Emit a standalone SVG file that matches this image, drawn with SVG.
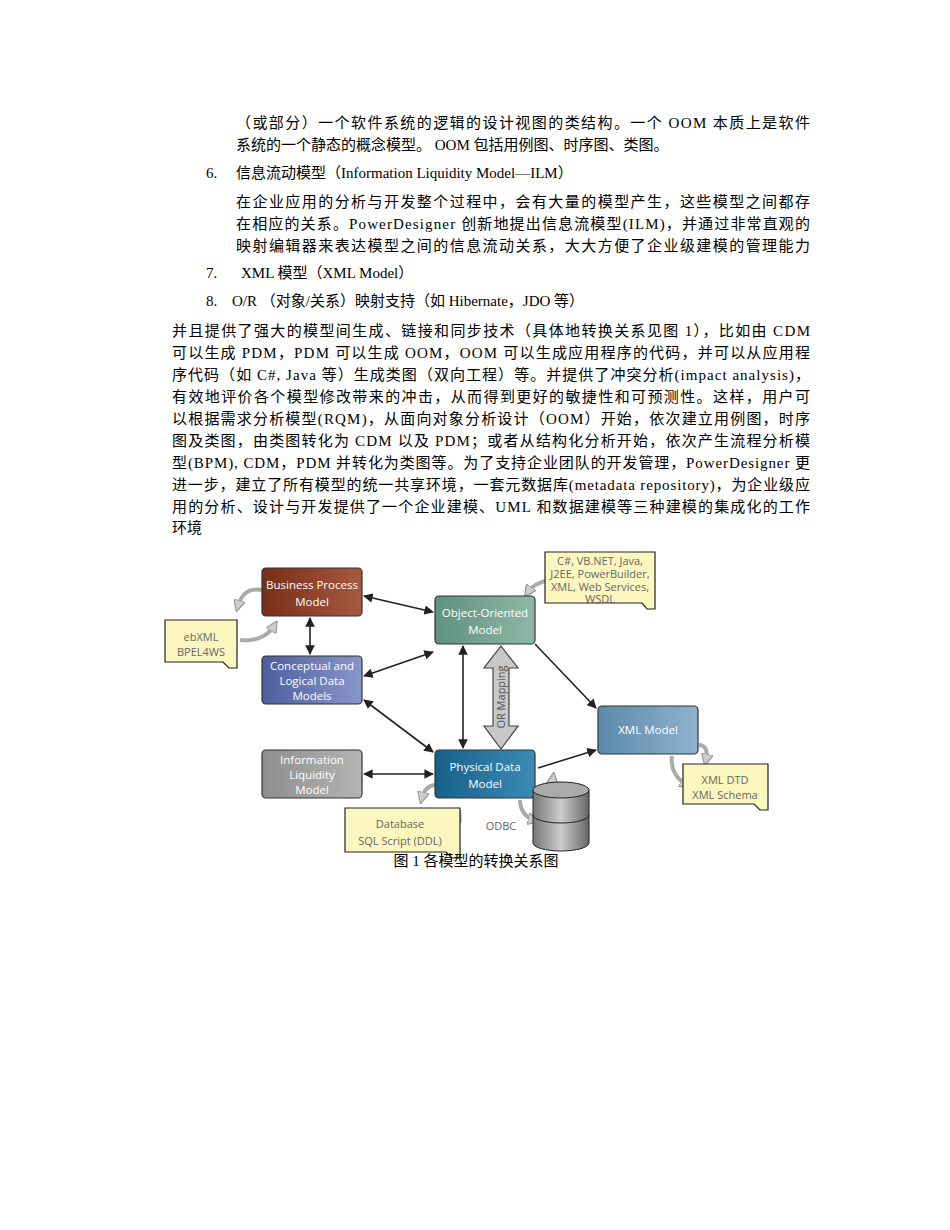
<svg xmlns="http://www.w3.org/2000/svg" width="950" height="1230" viewBox="0 0 950 1230">
<style>
.t{font-family:"Liberation Serif","Noto Sans CJK SC",serif;font-size:15px;fill:#000}
.bt{font-family:"Open Sans","Liberation Sans",sans-serif;font-size:11.5px;fill:#fff;text-anchor:middle}
.nt{font-family:"Open Sans","Liberation Sans",sans-serif;font-size:11px;fill:#666;text-anchor:middle}
.box{stroke:#333;stroke-width:1.2}
.note{fill:#fcf7bf;stroke:#222;stroke-width:1.2}
.c{stroke:#222;stroke-width:1.6;fill:none;marker-start:url(#ah);marker-end:url(#ah)}
.c1{stroke:#222;stroke-width:1.6;fill:none;marker-end:url(#ah)}
.g{stroke:#aaa;stroke-width:4;fill:none;marker-end:url(#gh)}
</style>
<defs>
<marker id="ah" viewBox="0 0 10 10" refX="9" refY="5" markerWidth="6" markerHeight="6" orient="auto-start-reverse"><path d="M0,0L10,5L0,10z" fill="#222"/></marker>
<marker id="gh" viewBox="0 0 10 10" refX="5" refY="5" markerWidth="3" markerHeight="3" orient="auto"><path d="M0,0L10,5L0,10z" fill="#ccc" stroke="#999"/></marker>
<linearGradient id="gb" x1="0" x2="1"><stop offset="0" stop-color="#7a2e16"/><stop offset="1" stop-color="#a45a40"/></linearGradient>
<linearGradient id="gc" x1="0" x2="1"><stop offset="0" stop-color="#4d5ea0"/><stop offset="1" stop-color="#8a96c8"/></linearGradient>
<linearGradient id="gi" x1="0" x2="1"><stop offset="0" stop-color="#8e8e8e"/><stop offset="1" stop-color="#b4b4b4"/></linearGradient>
<linearGradient id="go" x1="0" x2="1"><stop offset="0" stop-color="#5f9080"/><stop offset="1" stop-color="#8fb8a8"/></linearGradient>
<linearGradient id="gp" x1="0" x2="1"><stop offset="0" stop-color="#16608a"/><stop offset="1" stop-color="#3d8bb5"/></linearGradient>
<linearGradient id="gx" x1="0" x2="1"><stop offset="0" stop-color="#5b8aaa"/><stop offset="1" stop-color="#8fb2cc"/></linearGradient>
<linearGradient id="gd" x1="0" x2="1"><stop offset="0" stop-color="#777"/><stop offset="0.5" stop-color="#ccc"/><stop offset="1" stop-color="#666"/></linearGradient>
</defs>
<rect width="950" height="1230" fill="#fff"/>
<g id="text">
<text class="t" x="236" y="128" textLength="574">（或部分）一个软件系统的逻辑的设计视图的类结构。一个  OOM  本质上是软件</text>
<text class="t" x="236" y="150">系统的一个静态的概念模型。 OOM 包括用例图、时序图、类图。</text>
<text class="t" x="206" y="178">6.</text>
<text class="t" x="236" y="178">信息流动模型（Information Liquidity Model—ILM）</text>
<text class="t" x="236" y="207" textLength="574">在企业应用的分析与开发整个过程中，会有大量的模型产生，这些模型之间都存</text>
<text class="t" x="236" y="229" textLength="574">在相应的关系。PowerDesigner 创新地提出信息流模型(ILM)，并通过非常直观的</text>
<text class="t" x="236" y="251" textLength="574">映射编辑器来表达模型之间的信息流动关系，大大方便了企业级建模的管理能力</text>
<text class="t" x="206" y="278">7.</text>
<text class="t" x="241" y="278">XML  模型（XML Model）</text>
<text class="t" x="206" y="306">8.</text>
<text class="t" x="232" y="306">O/R  （对象/关系）映射支持（如 Hibernate，JDO 等）</text>
<text class="t" x="172" y="336" textLength="638">并且提供了强大的模型间生成、链接和同步技术（具体地转换关系见图 1），比如由 CDM</text>
<text class="t" x="172" y="358" textLength="638">可以生成 PDM，PDM 可以生成 OOM，OOM 可以生成应用程序的代码，并可以从应用程</text>
<text class="t" x="172" y="380" textLength="638">序代码（如 C#, Java 等）生成类图（双向工程）等。并提供了冲突分析(impact analysis)，</text>
<text class="t" x="172" y="402" textLength="638">有效地评价各个模型修改带来的冲击，从而得到更好的敏捷性和可预测性。这样，用户可</text>
<text class="t" x="172" y="424" textLength="638">以根据需求分析模型(RQM)，从面向对象分析设计（OOM）开始，依次建立用例图，时序</text>
<text class="t" x="172" y="446" textLength="638">图及类图，由类图转化为 CDM 以及 PDM；或者从结构化分析开始，依次产生流程分析模</text>
<text class="t" x="172" y="468" textLength="638">型(BPM), CDM，PDM 并转化为类图等。为了支持企业团队的开发管理，PowerDesigner 更</text>
<text class="t" x="172" y="490" textLength="638">进一步，建立了所有模型的统一共享环境，一套元数据库(metadata repository)，为企业级应</text>
<text class="t" x="172" y="512" textLength="638">用的分析、设计与开发提供了一个企业建模、UML 和数据建模等三种建模的集成化的工作</text>
<text class="t" x="172" y="533">环境</text>
</g>
<g id="connectors">
<line class="c" x1="364" y1="596" x2="433" y2="612"/>
<line class="c" x1="310" y1="618" x2="310" y2="654"/>
<line class="c" x1="364" y1="676" x2="433" y2="652"/>
<line class="c" x1="364" y1="700" x2="433" y2="752"/>
<line class="c" x1="463" y1="646" x2="463" y2="748"/>
<line class="c1" x1="535" y1="644" x2="596" y2="708"/>
<line class="c1" x1="538" y1="768" x2="596" y2="750"/>
<line class="c" x1="364" y1="774" x2="433" y2="774"/>
<path d="M501,646L518,668H509V726H518L501,749L484,726H493V668H484Z" fill="#c8c8c8" stroke="#444" stroke-width="1.2"/>
<text x="0" y="0" transform="translate(505,697) rotate(-90)" font-family="Open Sans,Liberation Sans,sans-serif" font-size="11" fill="#555" text-anchor="middle">OR Mapping</text>
<path class="g" d="M262,590C250,588 242,592 238,606"/>
<path class="g" d="M240,640C255,642 268,636 274,626"/>
<path class="g" d="M548,598C560,596 565,590 568,584"/>
<path class="g" d="M548,580C540,582 532,586 528,592"/>
<path class="g" d="M699,745C706,745 708,752 706,760"/>
<path class="g" d="M672,756C670,770 678,780 686,784"/>
<path class="g" d="M436,785C428,785 424,790 422,798"/>
<path class="g" d="M438,832C448,830 455,822 458,815"/>
<path class="g" d="M520,800C520,810 526,818 534,820"/>
<path class="g" d="M537,795C547,795 552,786 553,778"/>
</g>
<g id="bpm"><rect class="box" x="262" y="568" width="100" height="48" rx="4" fill="url(#gb)"/><text class="bt" x="312" y="589">Business Process</text><text class="bt" x="312" y="606">Model</text></g>
<g id="cldm"><rect class="box" x="262" y="656" width="100" height="48" rx="4" fill="url(#gc)"/><text class="bt" x="312" y="670">Conceptual and</text><text class="bt" x="312" y="685">Logical Data</text><text class="bt" x="312" y="700">Models</text></g>
<g id="ilm"><rect class="box" x="262" y="750" width="100" height="48" rx="4" fill="url(#gi)"/><text class="bt" x="312" y="764">Information</text><text class="bt" x="312" y="779">Liquidity</text><text class="bt" x="312" y="794">Model</text></g>
<g id="oom"><rect class="box" x="435" y="596" width="100" height="48" rx="4" fill="url(#go)"/><text class="bt" x="485" y="617">Object-Oriented</text><text class="bt" x="485" y="634">Model</text></g>
<g id="pdm"><rect class="box" x="435" y="750" width="100" height="48" rx="4" fill="url(#gp)"/><text class="bt" x="485" y="771">Physical Data</text><text class="bt" x="485" y="788">Model</text></g>
<g id="xml"><rect class="box" x="598" y="706" width="100" height="48" rx="4" fill="url(#gx)"/><text class="bt" x="648" y="734">XML  Model</text></g>
<g id="ebxml"><path class="note" d="M165,620H237V668H229L223,662H165Z"/><text class="nt" x="201" y="641">ebXML</text><text class="nt" x="201" y="656">BPEL4WS</text></g>
<g id="code"><path class="note" d="M545,552H655V609H647L642,603H545Z"/><text class="nt" x="600" y="565" fill="#444">C#, VB.NET, Java,</text><text class="nt" x="600" y="578" fill="#444">J2EE, PowerBuilder,</text><text class="nt" x="600" y="591" fill="#444">XML, Web Services,</text><text class="nt" x="600" y="603" fill="#444">WSDL</text></g>
<g id="xmldtd"><path class="note" d="M683,764H768V810H760L754,804H683Z"/><text class="nt" x="725" y="784" fill="#444">XML DTD</text><text class="nt" x="725" y="799" fill="#444">XML Schema</text></g>
<g id="ddl"><path class="note" d="M345,808H460V858H452L446,852H345Z"/><text class="nt" x="400" y="828">Database</text><text class="nt" x="400" y="845">SQL Script (DDL)</text></g>
<g id="db"><text class="nt" x="501" y="830" fill="#444">ODBC</text><path d="M533,790V843A28,8 0 0 0 589,843V790" fill="url(#gd)" stroke="#222"/><ellipse cx="561" cy="790" rx="28" ry="8" fill="#aaa" stroke="#222"/><path d="M533,815A28,8 0 0 0 589,815" fill="none" stroke="#222"/></g>
<text x="476" y="866" font-family="Liberation Serif,Noto Sans CJK SC,serif" font-size="15" text-anchor="middle">图 1  各模型的转换关系图</text>
</svg>
